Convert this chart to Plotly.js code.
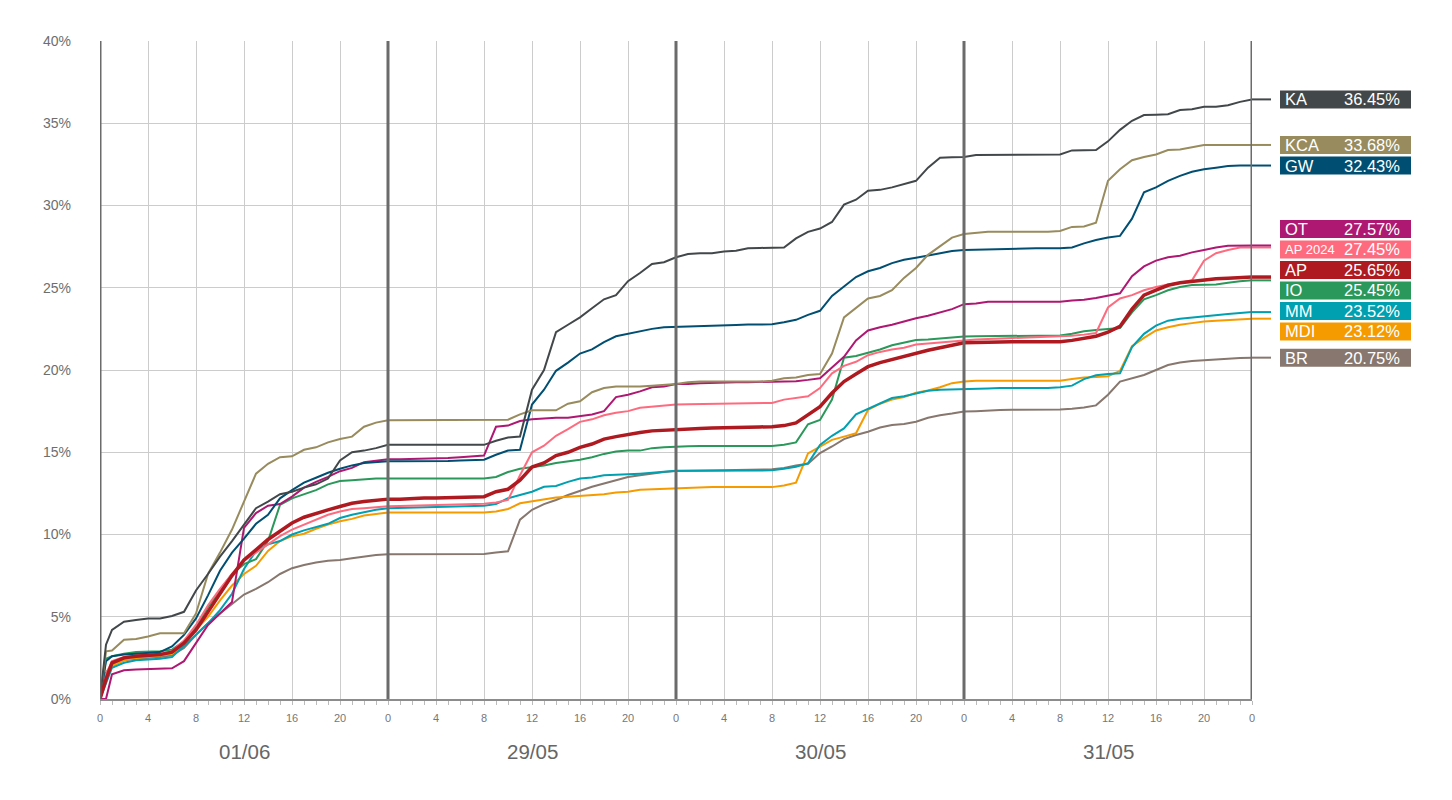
<!DOCTYPE html>
<html>
<head>
<meta charset="utf-8">
<script src="https://cdn.plot.ly/plotly-3.0.1.min.js"></script>
<style>
  html, body { margin: 0; padding: 0; background: #fff; }
  #chart { width: 1452px; height: 800px; }
</style>
</head>
<body>
<div id="chart"></div>
<script>
'use strict'

// hours since start (4 days)
const hours = [0, 0.5, 1, 2, 3, 4, 5, 6, 7, 8, 9, 10, 11, 12, 13, 14, 15, 16, 17, 18, 19, 20, 21, 22, 23, 24,
  25, 26, 27, 28, 29, 30, 31, 32, 33, 34, 35, 36, 37, 38, 39, 40, 41, 42, 43, 44, 45, 46, 47, 48,
  49, 50, 51, 52, 53, 54, 55, 56, 57, 58, 59, 60, 61, 62, 63, 64, 65, 66, 67, 68, 69, 70, 71, 72,
  73, 74, 75, 76, 77, 78, 79, 80, 81, 82, 83, 84, 85, 86, 87, 88, 89, 90, 91, 92, 93, 94, 95, 96];

const hourTicks = [0, 4, 8, 12, 16, 20, 24, 28, 32, 36, 40, 44, 48, 52, 56, 60, 64, 68, 72, 76, 80, 84, 88, 92, 96];
const hourTickText = ['0', '4', '8', '12', '16', '20', '0', '4', '8', '12', '16', '20', '0', '4', '8', '12', '16', '20',
  '0', '4', '8', '12', '16', '20', '0'];

const dayStarts = [0, 24, 48, 72, 96];
const dayCenters = [12, 36, 60, 84];
const dayLabels = ['01/06', '29/05', '30/05', '31/05'];

// turnout in %
const kaValues = [0, 3.3, 4.2, 4.7, 4.8, 4.9, 4.9, 5.05, 5.3, 6.6, 7.6, 8.65, 9.6, 10.6, 11.6, 12.0, 12.45, 12.6, 12.85, 13.05, 13.4, 14.5, 15.0, 15.1, 15.25, 15.45,
  15.45, 15.45, 15.45, 15.45, 15.45, 15.45, 15.45, 15.45, 15.7, 15.9, 15.95, 18.8, 20.0, 22.3, 22.75, 23.2, 23.75, 24.3, 24.55, 25.4, 25.9, 26.45, 26.55, 26.85,
  27.05, 27.1, 27.1, 27.2, 27.25, 27.4, 27.42, 27.42, 27.45, 28.0, 28.4, 28.6, 29.0, 30.05, 30.35, 30.9, 30.95, 31.1, 31.3, 31.5, 32.3, 32.9, 32.93, 32.95,
  33.07, 33.07, 33.07, 33.07, 33.07, 33.07, 33.07, 33.1, 33.35, 33.37, 33.37, 33.9, 34.6, 35.15, 35.5, 35.52, 35.55, 35.8, 35.85, 36.0, 36.0, 36.1, 36.3, 36.45];

const kcaValues = [0, 2.9, 2.95, 3.6, 3.65, 3.8, 4.0, 4.0, 4.0, 5.2, 7.6, 8.9, 10.3, 12.0, 13.7, 14.3, 14.7, 14.75, 15.15, 15.3, 15.6, 15.8, 15.95, 16.55, 16.8, 16.95,
  16.95, 16.95, 16.95, 16.95, 16.95, 16.95, 16.95, 16.95, 16.95, 16.98, 17.3, 17.55, 17.55, 17.55, 17.95, 18.1, 18.65, 18.9, 19.0, 19.0, 19.0, 19.05, 19.1, 19.15,
  19.25, 19.3, 19.3, 19.3, 19.3, 19.3, 19.3, 19.35, 19.5, 19.55, 19.7, 19.75, 21.0, 23.2, 23.75, 24.35, 24.5, 24.85, 25.6, 26.2, 27.0, 27.5, 28.05, 28.27,
  28.35, 28.4, 28.4, 28.4, 28.4, 28.4, 28.4, 28.45, 28.7, 28.72, 28.95, 31.5, 32.2, 32.75, 32.95, 33.1, 33.37, 33.4, 33.55, 33.68, 33.68, 33.68, 33.68, 33.68];

const gwValues = [0, 2.3, 2.6, 2.7, 2.75, 2.8, 2.85, 3.2, 3.9, 4.9, 6.3, 7.8, 8.9, 9.75, 10.65, 11.2, 12.2, 12.7, 13.15, 13.45, 13.75, 14.0, 14.2, 14.35, 14.4, 14.45,
  14.45, 14.45, 14.45, 14.45, 14.47, 14.5, 14.52, 14.55, 14.85, 15.1, 15.15, 17.9, 18.8, 19.95, 20.45, 21.0, 21.25, 21.7, 22.05, 22.2, 22.35, 22.5, 22.6, 22.63,
  22.65, 22.68, 22.7, 22.72, 22.74, 22.76, 22.77, 22.78, 22.9, 23.05, 23.35, 23.6, 24.5, 25.1, 25.65, 26.0, 26.2, 26.5, 26.7, 26.82, 26.95, 27.1, 27.23, 27.3,
  27.32, 27.35, 27.38, 27.4, 27.4, 27.4, 27.4, 27.4, 27.45, 27.7, 27.9, 28.05, 28.15, 29.2, 30.8, 31.1, 31.5, 31.8, 32.05, 32.2, 32.3, 32.4, 32.43, 32.43];

const otValues = [0, 0, 1.5, 1.75, 1.8, 1.82, 1.85, 1.87, 2.3, 3.4, 4.5, 5.2, 5.9, 10.4, 11.3, 11.75, 11.85, 12.3, 12.85, 13.2, 13.5, 13.85, 14.05, 14.4, 14.5, 14.57,
  14.57, 14.58, 14.6, 14.62, 14.65, 14.7, 14.75, 14.8, 16.55, 16.62, 16.9, 17.0, 17.05, 17.1, 17.1, 17.2, 17.3, 17.5, 18.35, 18.5, 18.7, 18.95, 19.0, 19.15,
  19.15, 19.2, 19.23, 19.24, 19.25, 19.26, 19.27, 19.28, 19.3, 19.32, 19.4, 19.5, 20.15, 20.8, 21.8, 22.4, 22.6, 22.75, 22.95, 23.15, 23.3, 23.5, 23.7, 24.0,
  24.05, 24.15, 24.15, 24.15, 24.15, 24.15, 24.15, 24.15, 24.22, 24.27, 24.38, 24.5, 24.66, 25.7, 26.3, 26.65, 26.85, 26.95, 27.15, 27.3, 27.45, 27.55, 27.57, 27.57];

const ap2024Values = [0, 1.5, 2.3, 2.55, 2.65, 2.7, 2.75, 2.9, 3.55, 4.5, 5.7, 6.7, 7.6, 8.4, 8.9, 9.4, 9.9, 10.3, 10.6, 10.9, 11.2, 11.4, 11.55, 11.6, 11.68, 11.72,
  11.74, 11.76, 11.78, 11.8, 11.82, 11.84, 11.85, 11.87, 11.95, 12.1, 13.6, 15.0, 15.4, 16.0, 16.4, 16.85, 17.0, 17.25, 17.4, 17.5, 17.7, 17.77, 17.85, 17.9,
  17.92, 17.93, 17.94, 17.95, 17.96, 17.97, 17.98, 18.0, 18.2, 18.32, 18.4, 18.9, 19.8, 20.25, 20.5, 20.9, 21.1, 21.25, 21.35, 21.55, 21.62, 21.7, 21.75, 21.8,
  21.85, 21.9, 21.92, 21.94, 21.96, 21.98, 22.0, 22.02, 22.08, 22.15, 22.25, 23.8, 24.35, 24.55, 24.85, 25.05, 25.2, 25.3, 25.45, 26.65, 27.1, 27.3, 27.45, 27.45];

const apValues = [0, 1.2, 2.2, 2.5, 2.6, 2.65, 2.7, 2.85, 3.4, 4.2, 5.3, 6.4, 7.5, 8.45, 9.05, 9.7, 10.2, 10.7, 11.05, 11.3, 11.5, 11.7, 11.9, 12.0, 12.1, 12.15,
  12.15, 12.2, 12.22, 12.22, 12.24, 12.25, 12.26, 12.3, 12.6, 12.75, 13.3, 14.1, 14.35, 14.8, 15.0, 15.3, 15.5, 15.8, 15.95, 16.1, 16.2, 16.3, 16.35, 16.4,
  16.42, 16.45, 16.47, 16.5, 16.52, 16.53, 16.54, 16.55, 16.62, 16.78, 17.25, 17.77, 18.6, 19.3, 19.75, 20.2, 20.45, 20.65, 20.85, 21.05, 21.2, 21.35, 21.5, 21.65,
  21.67, 21.7, 21.72, 21.72, 21.72, 21.72, 21.72, 21.72, 21.8, 21.92, 22.05, 22.3, 22.65, 23.7, 24.55, 24.85, 25.15, 25.3, 25.4, 25.47, 25.55, 25.58, 25.62, 25.65];

const ioValues = [0, 2.45, 2.6, 2.75, 2.85, 2.88, 2.9, 3.0, 3.5, 4.4, 5.6, 6.6, 7.6, 8.2, 8.5, 9.6, 11.8, 12.2, 12.45, 12.7, 13.05, 13.25, 13.3, 13.35, 13.4, 13.4,
  13.4, 13.4, 13.4, 13.4, 13.4, 13.4, 13.4, 13.4, 13.5, 13.8, 14.0, 14.1, 14.2, 14.35, 14.45, 14.55, 14.7, 14.9, 15.05, 15.1, 15.1, 15.25, 15.3, 15.35,
  15.36, 15.38, 15.38, 15.38, 15.38, 15.38, 15.38, 15.38, 15.45, 15.6, 16.7, 16.96, 18.2, 20.75, 20.85, 21.05, 21.25, 21.5, 21.65, 21.82, 21.86, 21.93, 21.98, 22.03,
  22.05, 22.06, 22.07, 22.1, 22.1, 22.1, 22.1, 22.1, 22.2, 22.35, 22.43, 22.48, 22.55, 23.5, 24.3, 24.55, 24.85, 25.05, 25.17, 25.18, 25.2, 25.3, 25.4, 25.45];

const mmValues = [0, 1.0, 1.9, 2.2, 2.35, 2.4, 2.45, 2.55, 3.2, 3.9, 4.6, 5.4, 6.4, 7.9, 9.0, 9.4, 9.6, 10.0, 10.25, 10.45, 10.65, 11.0, 11.2, 11.35, 11.5, 11.6,
  11.62, 11.65, 11.68, 11.7, 11.7, 11.7, 11.72, 11.75, 11.85, 12.2, 12.4, 12.6, 12.9, 12.95, 13.2, 13.4, 13.47, 13.6, 13.63, 13.65, 13.7, 13.75, 13.82, 13.88,
  13.88, 13.88, 13.88, 13.88, 13.89, 13.89, 13.9, 13.9, 14.0, 14.12, 14.33, 15.45, 16.0, 16.45, 17.3, 17.65, 18.0, 18.3, 18.4, 18.58, 18.74, 18.8, 18.83, 18.86,
  18.86, 18.88, 18.9, 18.9, 18.9, 18.9, 18.9, 18.95, 19.05, 19.45, 19.68, 19.75, 19.8, 21.4, 22.2, 22.7, 23.0, 23.12, 23.18, 23.25, 23.32, 23.4, 23.47, 23.52];

const mdiValues = [0, 1.3, 2.0, 2.35, 2.5, 2.55, 2.65, 2.75, 3.3, 4.2, 5.0, 6.0, 6.9, 7.6, 8.1, 9.0, 9.6, 9.9, 10.05, 10.35, 10.6, 10.8, 10.95, 11.15, 11.25, 11.33,
  11.33, 11.33, 11.33, 11.33, 11.33, 11.33, 11.33, 11.33, 11.4, 11.55, 11.9, 12.02, 12.15, 12.25, 12.3, 12.34, 12.38, 12.45, 12.55, 12.6, 12.72, 12.75, 12.77, 12.8,
  12.8, 12.87, 12.88, 12.88, 12.88, 12.88, 12.88, 12.88, 12.98, 13.15, 14.93, 15.34, 15.75, 15.95, 16.15, 17.57, 17.95, 18.2, 18.35, 18.62, 18.75, 18.95, 19.2, 19.3,
  19.35, 19.35, 19.35, 19.35, 19.35, 19.35, 19.35, 19.35, 19.45, 19.55, 19.58, 19.62, 19.95, 21.45, 21.95, 22.4, 22.6, 22.75, 22.85, 22.95, 23.0, 23.04, 23.08, 23.12];

const brValues = [0, 1.6, 2.1, 2.35, 2.45, 2.5, 2.55, 2.65, 3.1, 3.9, 4.6, 5.2, 5.8, 6.35, 6.7, 7.1, 7.6, 7.95, 8.15, 8.3, 8.4, 8.45, 8.55, 8.65, 8.75, 8.8,
  8.8, 8.8, 8.8, 8.8, 8.8, 8.8, 8.8, 8.82, 8.9, 8.98, 10.9, 11.5, 11.85, 12.1, 12.4, 12.65, 12.9, 13.1, 13.3, 13.5, 13.6, 13.72, 13.8, 13.86,
  13.86, 13.87, 13.88, 13.9, 13.92, 13.93, 13.94, 13.96, 14.05, 14.2, 14.3, 14.95, 15.35, 15.8, 16.05, 16.25, 16.5, 16.65, 16.72, 16.85, 17.1, 17.25, 17.35, 17.47,
  17.5, 17.55, 17.57, 17.58, 17.58, 17.59, 17.59, 17.6, 17.65, 17.72, 17.85, 18.5, 19.3, 19.5, 19.7, 20.0, 20.3, 20.45, 20.55, 20.6, 20.65, 20.7, 20.73, 20.75];

// final values shown in the labels
const finalValues = {KA: 36.45, KCA: 33.68, GW: 32.43, OT: 27.57, 'AP 2024': 27.45, AP: 25.65, IO: 25.45, MM: 23.52, MDI: 23.12, BR: 20.75};

const series = [
  {name: 'BR', y: brValues, color: '#87776e', width: 2},
  {name: 'MDI', y: mdiValues, color: '#f59b00', width: 2},
  {name: 'MM', y: mmValues, color: '#00a0b0', width: 2},
  {name: 'IO', y: ioValues, color: '#2a985a', width: 2},
  {name: 'AP 2024', y: ap2024Values, color: '#ff6b7e', width: 2, small: true},
  {name: 'OT', y: otValues, color: '#ae1872', width: 2},
  {name: 'GW', y: gwValues, color: '#004f72', width: 2},
  {name: 'KCA', y: kcaValues, color: '#988b5e', width: 2},
  {name: 'KA', y: kaValues, color: '#424749', width: 2},
  {name: 'AP', y: apValues, color: '#ae1a1f', width: 3.5}
];

const FONT = 'Liberation Sans, Arial, sans-serif';
const plotHeightPx = 800 - 41 - 101;
const yMax = 40;
const labelGap = 20.5 / (plotHeightPx / yMax); // in % units

// push overlapping labels apart, keeping each group centred on its mean
let spreadLabels = function(vals, gap) {
  const order = vals.map((v, i) => i).sort((a, b) => vals[b] - vals[a]);
  let groups = order.map(i => ({idx: [i], mean: vals[i]}));
  let merged = true;
  while (merged) {
    merged = false;
    for (let k = 0; k < groups.length - 1; k++) {
      const g = groups[k], h = groups[k + 1];
      const gBottom = g.mean - (g.idx.length - 1) * gap / 2;
      const hTop = h.mean + (h.idx.length - 1) * gap / 2;
      if (gBottom - hTop < gap - 1e-9) {
        const idx = g.idx.concat(h.idx);
        const mean = idx.reduce((s, i) => s + vals[i], 0) / idx.length;
        groups.splice(k, 2, {idx: idx, mean: mean});
        merged = true;
        break;
      }
    }
  }
  const pos = [];
  groups.forEach(g => g.idx.forEach((i, j) => {
    pos[i] = g.mean + ((g.idx.length - 1) / 2 - j) * gap;
  }));
  return pos;
};

const traces = series.map(s => ({
  x: hours,
  y: s.y,
  mode: 'lines',
  name: s.name,
  line: {color: s.color, width: s.width},
  hoverinfo: 'skip',
  type: 'scatter'
}));

const lastValues = series.map(s => s.y[s.y.length - 1]);
const labelPos = spreadLabels(lastValues, labelGap);

const shapes = [];
const annotations = [];

// thick day separators
dayStarts.forEach(d => {
  shapes.push({
    type: 'line', xref: 'x', yref: 'paper', x0: d, x1: d, y0: 0, y1: 1,
    line: {color: '#6b6b6b', width: 3}, layer: 'above'
  });
});

series.forEach((s, i) => {
  // leader line past the plot edge
  shapes.push({
    type: 'line', xref: 'paper', xsizemode: 'pixel', xanchor: 1, x0: 0, x1: 19,
    yref: 'y', y0: lastValues[i], y1: lastValues[i],
    line: {color: s.color, width: s.width}
  });
  // label box
  shapes.push({
    type: 'rect', xref: 'paper', xsizemode: 'pixel', xanchor: 1, x0: 28, x1: 159,
    yref: 'y', ysizemode: 'pixel', yanchor: labelPos[i], y0: -9, y1: 9,
    fillcolor: s.color, line: {width: 0}
  });
  annotations.push({
    xref: 'paper', x: 1, xshift: 31, xanchor: 'left',
    yref: 'y', y: labelPos[i], yanchor: 'middle',
    text: s.name, showarrow: false,
    font: {family: FONT, size: s.small ? 13 : 16.5, color: '#ffffff'}
  });
  annotations.push({
    xref: 'paper', x: 1, xshift: 150, xanchor: 'right',
    yref: 'y', y: labelPos[i], yanchor: 'middle',
    text: finalValues[s.name].toFixed(2) + '%', showarrow: false,
    font: {family: FONT, size: 16.5, color: '#ffffff'}
  });
});

// day names under the hour ticks
dayLabels.forEach((d, i) => {
  annotations.push({
    xref: 'x', x: dayCenters[i], yref: 'paper', y: 0, yshift: -52, yanchor: 'middle',
    text: d, showarrow: false,
    font: {family: FONT, size: 20.5, color: '#666666'}
  });
});

const layout = {
  width: 1452,
  height: 800,
  margin: {l: 100, r: 200, t: 41, b: 101, pad: 0},
  paper_bgcolor: '#ffffff',
  plot_bgcolor: '#ffffff',
  showlegend: false,
  font: {family: FONT, color: '#6e6e6e'},
  xaxis: {
    range: [0, 96],
    tickmode: 'array',
    tickvals: hourTicks,
    ticktext: hourTickText,
    ticks: '',
    tickfont: {family: FONT, size: 11, color: '#777777'},
    ticklabelstandoff: 8,
    showgrid: true,
    gridcolor: '#cccccc',
    gridwidth: 1,
    zeroline: false,
    showline: true,
    linecolor: '#8c8c8c',
    linewidth: 2,
    fixedrange: true,
    minor: {tickmode: 'linear', tick0: 0, dtick: 1, ticks: 'outside', ticklen: 4, tickcolor: '#bbbbbb', tickwidth: 1, showgrid: false}
  },
  yaxis: {
    range: [0, yMax],
    dtick: 5,
    tick0: 0,
    ticksuffix: '%',
    ticks: '',
    tickfont: {family: FONT, size: 14, color: '#6e6e6e'},
    ticklabelstandoff: 28,
    showgrid: true,
    gridcolor: '#cccccc',
    gridwidth: 1,
    zeroline: false,
    showline: false,
    fixedrange: true
  },
  shapes: shapes,
  annotations: annotations
};

const config = {displayModeBar: false, staticPlot: true};

Plotly.newPlot('chart', traces, layout, config);
</script>
</body>
</html>
